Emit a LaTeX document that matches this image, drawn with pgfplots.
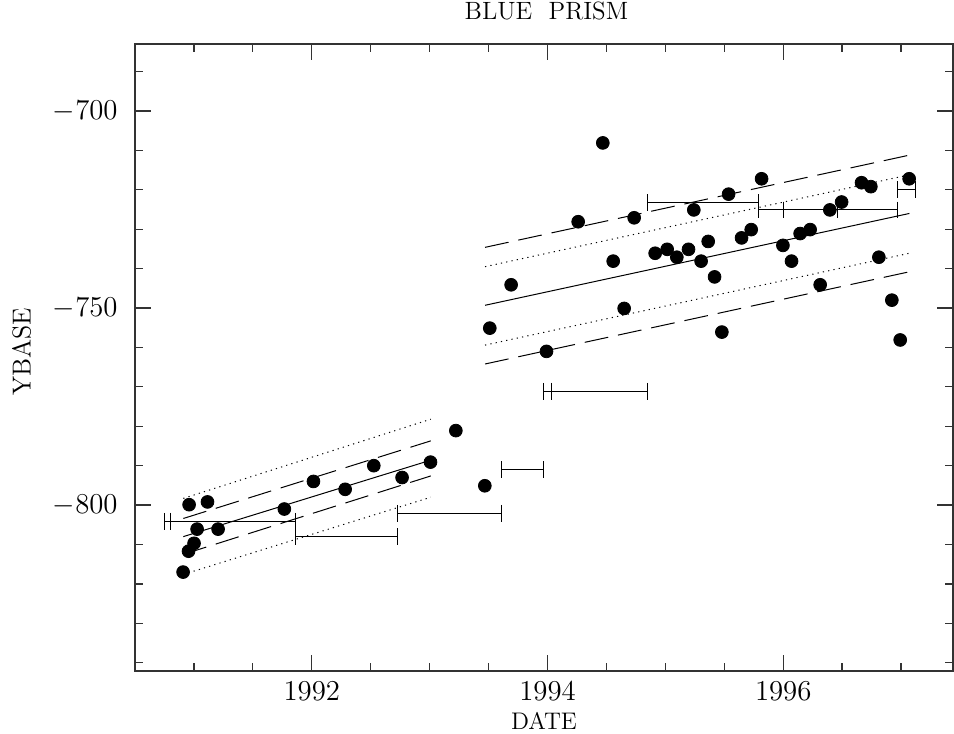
\documentclass[border=0pt]{standalone}
\usepackage{pgfplots}
\pgfplotsset{compat=1.18}

\begin{document}
\begin{tikzpicture}

\pgfplotsset{
  seg/.style={black, line width=0.5pt, mark=|, mark size=4.2pt, mark options={solid}},
  fitline/.style={black, line width=0.5pt},
}

\begin{axis}[
name=ax,
scale only axis,
width=409pt, height=313.5pt,
xmin=1990.5, xmax=1997.44,
ymin=-842.1, ymax=-683,
xtick={1992,1994,1996},
minor xtick={1991,1991.5,...,1997},
ytick={-800,-750,-700},
minor ytick={-840,-830,...,-690},
tick pos=both,
tick align=inside,
major tick length=8pt,
minor tick length=4pt,
axis line style={black!80, line width=0.6pt},
every tick/.style={black!80, line width=0.6pt},
/pgf/number format/1000 sep={},
ticklabel style={font=\fontsize{15}{17}\selectfont},
xticklabel style={anchor=base, yshift=-15pt},
yticklabel style={inner sep=0pt, anchor=east, xshift=-8.5pt},
title={BLUE\ \ PRISM},
title style={font=\fontsize{12.5}{14}\selectfont, inner sep=0pt, at={(axis description cs:0.503,1)}, anchor=base, yshift=6pt},
xlabel={DATE},
xlabel style={font=\fontsize{12}{14}\selectfont, inner sep=0pt, at={(axis description cs:0.5,0)}, anchor=base, yshift=-29.5pt},
ylabel={YBASE},
ylabel style={font=\fontsize{13}{15}\selectfont, at={(axis description cs:-0.1386,0.509)}, anchor=center},
]

% measurements
\addplot[only marks, mark=*, mark size=3.2pt, black] coordinates {
(1990.908,-817.0) (1990.954,-811.7) (1991.001,-809.7) (1990.959,-799.9)
(1991.115,-799.2) (1991.027,-806.1) (1991.205,-806.1) (1991.767,-801.0)
(1992.014,-794.0) (1992.283,-796.0) (1992.526,-790.0) (1992.766,-793.0)
(1993.007,-789.1) (1993.222,-781.1) (1993.468,-795.1)
(1993.510,-755.1) (1993.691,-744.1) (1993.991,-761.0) (1994.260,-728.1)
(1994.469,-708.1) (1994.557,-738.1) (1994.650,-750.1) (1994.735,-727.1)
(1994.913,-736.1) (1995.015,-735.1) (1995.097,-737.1) (1995.196,-735.1)
(1995.241,-725.1) (1995.303,-738.1) (1995.363,-733.1) (1995.417,-742.1)
(1995.479,-756.1) (1995.536,-721.1) (1995.646,-732.2) (1995.728,-730.1)
(1995.816,-717.2) (1995.997,-734.1) (1996.070,-738.1) (1996.143,-731.1)
(1996.228,-730.1) (1996.313,-744.1) (1996.395,-725.1) (1996.495,-723.1)
(1996.664,-718.2) (1996.743,-719.2) (1996.811,-737.1) (1996.921,-748.0)
(1996.992,-758.1) (1997.068,-717.2)
};

% fits, first period
\addplot[fitline] coordinates {(1990.91,-808.0) (1993.01,-788.6)};
\addplot[fitline, dash pattern=on 12pt off 5pt] coordinates {(1990.91,-803.4) (1993.01,-783.7)};
\addplot[fitline, dash pattern=on 12pt off 5pt] coordinates {(1990.91,-812.5) (1993.01,-792.6)};
\addplot[fitline, dash pattern=on 0.6pt off 2.1pt] coordinates {(1990.91,-798.3) (1993.01,-778.2)};
\addplot[fitline, dash pattern=on 0.6pt off 2.1pt] coordinates {(1990.91,-817.6) (1993.01,-798.0)};

% fits, second period
\addplot[fitline] coordinates {(1993.47,-749.3) (1997.07,-726.0)};
\addplot[fitline, dash pattern=on 12pt off 5pt] coordinates {(1993.47,-734.6) (1997.07,-711.2)};
\addplot[fitline, dash pattern=on 12pt off 5pt] coordinates {(1993.47,-764.2) (1997.07,-740.8)};
\addplot[fitline, dash pattern=on 0.6pt off 2.1pt] coordinates {(1993.47,-739.5) (1997.07,-716.2)};
\addplot[fitline, dash pattern=on 0.6pt off 2.1pt] coordinates {(1993.47,-759.4) (1997.07,-736.1)};

% intervals
\addplot[seg] coordinates {(1990.752,-804.1) (1990.801,-804.1)};
\addplot[seg] coordinates {(1990.801,-804.1) (1991.862,-804.1)};
\addplot[seg] coordinates {(1991.862,-808.0) (1992.724,-808.0)};
\addplot[seg] coordinates {(1992.724,-802.1) (1993.612,-802.1)};
\addplot[seg] coordinates {(1993.612,-791.0) (1993.963,-791.0)};
\addplot[seg] coordinates {(1993.963,-771.1) (1994.036,-771.1)};
\addplot[seg] coordinates {(1994.036,-771.1) (1994.845,-771.1)};
\addplot[seg] coordinates {(1994.849,-723.2) (1995.793,-723.2)};
\addplot[seg] coordinates {(1995.793,-725.1) (1996.003,-725.1)};
\addplot[seg] coordinates {(1996.003,-725.1) (1996.461,-725.1)};
\addplot[seg] coordinates {(1996.461,-725.1) (1996.970,-725.1)};
\addplot[seg] coordinates {(1996.970,-720.0) (1997.122,-720.0)};

\end{axis}

\pgfresetboundingbox
\path[use as bounding box] ([shift={(-67.5pt,-31.5pt)}]ax.south west) rectangle ([shift={(0.5pt,22pt)}]ax.north east);

\end{tikzpicture}
\end{document}
